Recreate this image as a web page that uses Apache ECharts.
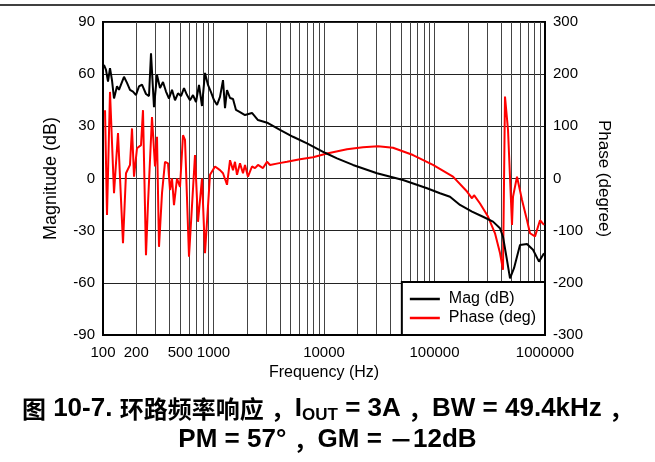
<!DOCTYPE html>
<html>
<head>
<meta charset="utf-8">
<script src="https://cdn.jsdelivr.net/npm/echarts@6/dist/echarts.min.js"></script>
<style>
  html, body { margin: 0; padding: 0; background: #fff; }
  #chart { width: 655px; height: 462px; }
</style>
</head>
<body>
<div id="chart"></div>
<script>
// Frequency (Hz) and magnitude (dB)
const magFreq = [102, 106.5, 111, 115.7, 120.6, 125.8, 133.9, 139.5, 145.5, 154.9, 164.9, 175.5, 186.8, 198.9,
  211.8, 225.4, 244.9, 260.8, 271.9, 289.4, 308.1, 328, 349.1, 371.7, 395.7, 421.2, 448.4, 477.3, 508.1, 540.8,
  575.7, 612.8, 652.4, 694.4, 739.3, 786.9, 837.7, 891.7, 949.3, 1010, 1076, 1145, 1219, 1271, 1325, 1411, 1502,
  1598, 1737, 1928, 2230, 2527, 3113, 3998, 5243, 7019, 10210, 13115, 18297, 30170, 51860, 85530, 112100, 138100,
  170200, 218500, 274800, 338400, 391500, 416800, 453000, 482400, 524200, 594000, 687400, 778900, 882300, 979500]
const magDb = [65.3, 62.4, 55.7, 63.5, 56.6, 46, 53, 51, 54, 58.5, 55, 51, 50, 48,
  53, 54, 48.6, 47.4, 72, 41, 59.5, 52, 55.5, 50, 46, 51, 45, 49, 47.4, 52,
  48, 45, 48, 44, 53.8, 41.7, 60.7, 53.8, 49.7, 45.1, 42.3, 46.9, 56.6, 40.5, 50.9, 46.3, 45.7,
  39.4, 38.2, 36.5, 37.7, 33.6, 31.9, 27.9, 24, 20.2, 14.8, 11.6, 7.8, 3, -0.9, -5.6, -8.5, -10.5,
  -15.2, -19, -22, -24.8, -28.6, -33.5, -46.9, -57.4, -51.6, -38.2, -37.7, -41, -47.8, -43]

// Frequency (Hz) and phase (deg)
const phaseFreq = [104.3, 108.7, 115.7, 125.8, 136.7, 151.7, 161.5, 175.5, 183, 190.9, 203.1, 220.8, 230.1, 244.9,
  255.4, 266.2, 277.6, 295.6, 308.1, 321.2, 342, 364.1, 387.5, 404, 421.2, 439, 467.5, 497.7, 529.7, 552.3, 600.1,
  680.1, 724.1, 786.9, 837.7, 929.6, 1032, 1145, 1219, 1325, 1411, 1502, 1565, 1632, 1737, 1849, 1928, 2052, 2230,
  2375, 2527, 2805, 3050, 3246, 3835, 4627, 6066, 7953, 10640, 16150, 22540, 30810, 42110, 63880, 96920, 147000,
  196900, 218500, 227900, 258100, 304900, 352800, 391500, 416800, 434500, 462700, 502800, 513400, 558000, 619400,
  687400, 731500, 812100, 901400, 979500]
const phaseDeg = [131, -70, 166, -28, 87, -124, 10, 26, 96, 3.5, 58, 64, 131, -147,
  -48, -51, 118, 23, 80, -131, -28, 32, 29, -22, 0, -51, 0, -16, 83, 74, -150,
  45, -83, 0, -143, 7, 23, 16, 10, -12, 35, 16, 32, 7, 29, 10, 26, 3.5, 23,
  20, 26, 20, 32, 26, 29, 32, 37, 40.6, 48, 56, 60, 62, 59, 45, 26, 3.5,
  -25, -38, -32, -48, -73, -105, -143, -175, 157, 93, -89, -35, 3.5, -41,
  -80, -105, -111, -80, -89]

const freqLabels = [100, 200, 500, 1000, 10000, 100000, 1000000]
const freqGrid = [100, 200, 300, 400, 500, 600, 700, 800, 900,
  1000, 2000, 3000, 4000, 5000, 6000, 7000, 8000, 9000,
  10000, 20000, 30000, 40000, 50000, 60000, 70000, 80000, 90000,
  100000, 200000, 300000, 400000, 500000, 600000, 700000, 800000, 900000, 1000000]

const font = '"Liberation Sans", Arial, "Noto Sans CJK SC", sans-serif'
const cjk = '"Noto Sans CJK SC", sans-serif'

const chart = echarts.init(document.getElementById('chart'), null, { renderer: 'canvas' })

chart.setOption({
  animation: false,
  backgroundColor: '#fff',
  textStyle: { fontFamily: font },
  title: {
    left: 'center',
    top: 388,
    text: '{c|图}{l| 10-7. }{c|环路频率响应}{l| }{c|，}{l|I}{s|OUT}{l| = 3A }{c|，}{l|BW = 49.4kHz }{c|，}\n' +
      '{l|PM = 57° }{c|，}{l|GM = }{c|－}{l|12dB}',
    textStyle: {
      rich: {
        c: { fontFamily: cjk, fontSize: 24, fontWeight: 'bold', color: '#000', lineHeight: 31 },
        l: { fontFamily: font, fontSize: 26, fontWeight: 'bold', color: '#000', lineHeight: 31 },
        s: { fontFamily: font, fontSize: 17, fontWeight: 'bold', color: '#000', lineHeight: 21, verticalAlign: 'bottom' }
      }
    }
  },
  graphic: [
    { type: 'line', shape: { x1: 0, y1: 5, x2: 655, y2: 5 }, style: { stroke: '#000', lineWidth: 1.5 } }
  ],
  grid: {
    left: 103, right: 110, top: 22, bottom: 127,
    show: true, borderColor: '#000', borderWidth: 2, backgroundColor: '#fff'
  },
  legend: {
    right: 110, bottom: 127,
    orient: 'vertical',
    backgroundColor: '#fff',
    borderColor: '#000',
    borderWidth: 2,
    borderRadius: 0,
    padding: [9, 9, 9, 8],
    itemGap: 3,
    itemWidth: 30,
    itemHeight: 2.5,
    icon: 'rect',
    textStyle: { fontFamily: font, fontSize: 16, color: '#000', padding: [0, 0, 0, 4] },
    data: ['Mag (dB)', 'Phase (deg)']
  },
  xAxis: {
    type: 'log',
    logBase: 10,
    min: 100,
    max: 1000000,
    name: 'Frequency (Hz)',
    nameLocation: 'middle',
    nameGap: 28,
    nameTextStyle: { fontFamily: font, fontSize: 16, color: '#000' },
    axisLine: { show: true, onZero: false, lineStyle: { color: '#000', width: 2 } },
    axisTick: { show: false, customValues: freqGrid },
    axisLabel: {
      customValues: freqLabels,
      margin: 10,
      fontFamily: font, fontSize: 15, color: '#000',
      formatter: v => String(Math.round(v))
    },
    splitLine: { show: true, lineStyle: { color: '#444', width: 1 } }
  },
  yAxis: [
    {
      type: 'value',
      min: -90, max: 90, interval: 30,
      name: 'Magnitude (dB)',
      nameLocation: 'middle',
      nameRotate: 90,
      nameGap: 43,
      nameTextStyle: { fontFamily: font, fontSize: 18, color: '#000' },
      axisLine: { show: true, lineStyle: { color: '#000', width: 2 } },
      axisTick: { show: false },
      axisLabel: { margin: 8, fontFamily: font, fontSize: 15, color: '#000' },
      splitLine: { show: true, lineStyle: { color: '#222', width: 1 } }
    },
    {
      type: 'value',
      min: -300, max: 300, interval: 100,
      name: 'Phase (degree)',
      nameLocation: 'middle',
      nameRotate: -90,
      nameGap: 50,
      nameTextStyle: { fontFamily: font, fontSize: 17, color: '#000' },
      axisLine: { show: true, lineStyle: { color: '#000', width: 2 } },
      axisTick: { show: false },
      axisLabel: { margin: 8, fontFamily: font, fontSize: 15, color: '#000' },
      splitLine: { show: false }
    }
  ],
  series: [
    {
      name: 'Phase (deg)',
      type: 'line',
      yAxisIndex: 1,
      symbol: 'none',
      data: phaseFreq.map((f, i) => [f, phaseDeg[i]]),
      lineStyle: { color: '#ff0000', width: 2 },
      itemStyle: { color: '#ff0000' },
      z: 3
    },
    {
      name: 'Mag (dB)',
      type: 'line',
      yAxisIndex: 0,
      symbol: 'none',
      data: magFreq.map((f, i) => [f, magDb[i]]),
      lineStyle: { color: '#000', width: 2 },
      itemStyle: { color: '#000' },
      z: 4
    }
  ]
})
</script>
</body>
</html>
